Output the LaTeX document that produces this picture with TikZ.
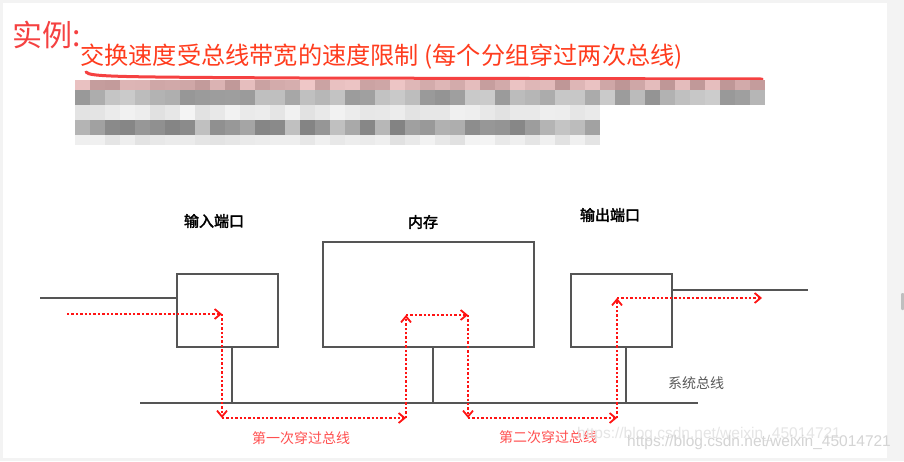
\documentclass[tikz,border=0pt]{standalone}
\usepackage{fontspec}
\newfontfamily\cjk{Noto Sans CJK SC}
\newfontfamily\cjkb[FakeBold=2.5]{Noto Sans CJK SC}
\newfontfamily\wmfont{Liberation Sans}
\usetikzlibrary{arrows.meta}
\definecolor{boxgray}{RGB}{85,85,85}
\definecolor{pathred}{RGB}{255,20,20}
\definecolor{notered}{RGB}{255,80,80}
\definecolor{titlered}{RGB}{245,65,65}
\definecolor{subred}{RGB}{255,60,30}
\definecolor{framegray}{RGB}{243,243,243}
\begin{document}
\begin{tikzpicture}[x=1pt,y=-1pt,
    box/.style={draw=boxgray,line width=1.2pt,minimum width=101pt,minimum height=73pt,inner sep=0pt},
    wire/.style={draw=boxgray,line width=1.2pt},
    hop/.style={pathred,line width=2.4pt,dash pattern=on 2.4pt off 2pt,-{Straight Barb[length=6pt,width=10pt,line width=1.8pt]}},
    lbl/.style={font=\cjkb\fontsize{15}{18}\selectfont,inner sep=0pt},
    note/.style={font=\cjk\fontsize{14}{17}\selectfont,notered,inner sep=0pt}]
    % page and frame
    \useasboundingbox (0,0) rectangle (904,461);
    \fill[framegray] (0,0) rectangle (904,461);
    \fill[white] (3,3) rectangle (887,458);
    \fill[black!25,rounded corners=1pt] (901,293) rectangle (904,310);
    % heading
    \node[anchor=west,inner sep=0pt,titlered,font=\cjk\fontsize{30}{34}\selectfont] (title) at (12,35) {实例:};
    \node[anchor=west,inner sep=0pt,subred,font=\cjk\fontsize{24.2}{28}\selectfont] (subtitle) at (80,57) {交换速度受总线带宽的速度限制 (每个分组穿过两次总线)};
    \draw[titlered,line width=3pt,line cap=round] (86,72) .. controls (89,77) and (120,77) .. (300,78) -- (762,79);
    % blurred lines
    \pgfmathsetseed{7}
    \foreach \i in {0,...,45} {
        \pgfmathsetmacro\ga{int(150+50*rnd)}
        \pgfmathsetmacro\ra{int(\ga+40)}
        \pgfmathsetmacro\gb{int(145+60*rnd)}
        \fill[fill={rgb,255:red,\ra;green,\ga;blue,\ga}] (75+15*\i,80) rectangle +(15,10);
        \fill[fill={rgb,255:red,\gb;green,\gb;blue,\gb}] (75+15*\i,90) rectangle +(15,15);
    }
    \foreach \i in {0,...,34} {
        \pgfmathsetmacro\gc{int(225+20*rnd)}
        \pgfmathsetmacro\gd{int(130+70*rnd)}
        \pgfmathsetmacro\ge{int(225+20*rnd)}
        \fill[fill={rgb,255:red,\gc;green,\gc;blue,\gc}] (75+15*\i,105) rectangle +(15,15);
        \fill[fill={rgb,255:red,\gd;green,\gd;blue,\gd}] (75+15*\i,120) rectangle +(15,15);
        \fill[fill={rgb,255:red,\ge;green,\ge;blue,\ge}] (75+15*\i,135) rectangle +(15,10);
    }
    % ports and memory
    \node[box] (inport) at (227.5,310.5) {};
    \node[box,minimum width=211pt,minimum height=105pt] (mem) at (428.5,294.5) {};
    \node[box] (outport) at (621.5,310.5) {};
    \node[lbl] (inlbl) at (214,221) {输入端口};
    \node[lbl] (memlbl) at (423,222) {内存};
    \node[lbl] (outlbl) at (610,215) {输出端口};
    % lines and bus
    \coordinate (inL) at (40,298);
    \coordinate (outR) at (808,290);
    \coordinate (busL) at (140,403);
    \coordinate (busR) at (698,403);
    \draw[wire] (inL) -- (inL -| inport.west);
    \draw[wire] (outR -| outport.east) -- (outR);
    \draw[wire] (busL) -- (busR);
    \foreach \n in {inport,mem,outport}
        \draw[wire] ([xshift=4.5pt]\n.south) -- ([xshift=4.5pt]\n.south |- busL);
    \node[anchor=west,inner sep=0pt,text=black!65,font=\cjk\fontsize{14}{17}\selectfont] (buslbl) at (668,383) {系统总线};
    % packet route
    \coordinate (p0) at (67,314);
    \coordinate (p1) at (222,314);
    \coordinate (p2) at (222,418);
    \coordinate (p3) at (406,418);
    \coordinate (p4) at (406,315);
    \coordinate (p5) at (468,315);
    \coordinate (p6) at (468,418);
    \coordinate (p7) at (617,418);
    \coordinate (p8) at (617,298);
    \coordinate (p9) at (762,298);
    \foreach \a/\b in {p0/p1,p1/p2,p2/p3,p3/p4,p4/p5,p5/p6,p6/p7,p7/p8,p8/p9}
        \draw[hop] (\a) -- (\b);
    \node[note] (first) at (301,438) {第一次穿过总线};
    \node[note] (second) at (548,437) {第二次穿过总线};
    % watermark
    \node[anchor=west,inner sep=0pt,text=black!10,font=\wmfont\fontsize{15.5}{18}\selectfont] (wm1) at (577,434) {https://blog.csdn.net/weixin\_45014721};
    \node[anchor=west,inner sep=0pt,text=black!17,font=\wmfont\fontsize{15.5}{18}\selectfont] (wm2) at (627,442) {https://blog.csdn.net/weixin\_45014721};
\end{tikzpicture}
\end{document}
